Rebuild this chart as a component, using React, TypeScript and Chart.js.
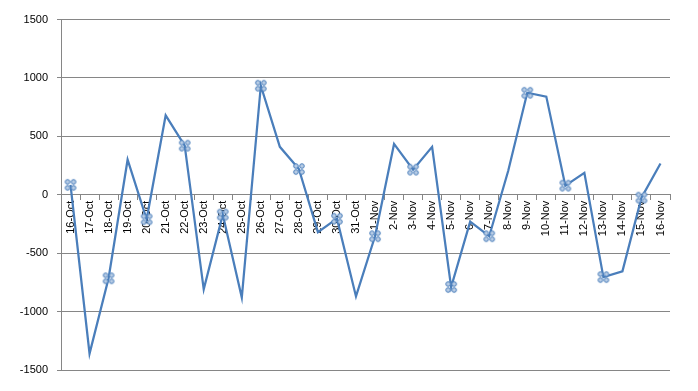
import React, { useEffect, useRef } from "react";
import { Chart, registerables } from "chart.js";

Chart.register(...registerables);

const categories: string[] = [
  "16-Oct", "17-Oct", "18-Oct", "19-Oct", "20-Oct", "21-Oct", "22-Oct", "23-Oct",
  "24-Oct", "25-Oct", "26-Oct", "27-Oct", "28-Oct", "29-Oct", "30-Oct", "31-Oct",
  "1-Nov", "2-Nov", "3-Nov", "4-Nov", "5-Nov", "6-Nov", "7-Nov", "8-Nov",
  "9-Nov", "10-Nov", "11-Nov", "12-Nov", "13-Nov", "14-Nov", "15-Nov", "16-Nov",
];

const values: number[] = [
  85, -1360, -715, 300, -210, 680, 420, -810,
  -170, -880, 933, 410, 220, -320, -205, -870,
  -355, 435, 215, 410, -790, -230, -355, 205,
  873, 840, 78, 188, -705, -655, -25, 268,
];

// every other point carries the four-circle marker
const marked: boolean[] = categories.map((_, i) => i % 2 === 0);

const yTicks: number[] = [-1500, -1000, -500, 0, 500, 1000, 1500];

const LINE = "#4A7EBB";
const AXIS = "#868686";
const FONT = "'Liberation Sans', Arial, sans-serif";

function makeMarker(): HTMLCanvasElement {
  const c = document.createElement("canvas");
  c.width = 14;
  c.height = 14;
  const g = c.getContext("2d")!;
  const offs = [
    [-3, -3],
    [3, -3],
    [-3, 3],
    [3, 3],
  ];
  g.lineWidth = 1;
  g.strokeStyle = LINE;
  g.fillStyle = "#B9CDE5";
  for (const [dx, dy] of offs) {
    g.beginPath();
    g.arc(7 + dx, 7 + dy, 2.3, 0, Math.PI * 2);
    g.fill();
    g.stroke();
  }
  return c;
}

export default function App() {
  const ref = useRef<HTMLCanvasElement | null>(null);

  useEffect(() => {
    if (!ref.current) return;
    const marker = makeMarker();
    const chart = new Chart(ref.current, {
      type: "line",
      data: {
        labels: categories,
        datasets: [
          {
            data: values,
            borderColor: LINE,
            borderWidth: 2.25,
            tension: 0,
            fill: false,
            pointStyle: marker as any,
            pointRadius: (ctx: any) => (marked[ctx.dataIndex] ? 5 : 0),
            pointHoverRadius: (ctx: any) => (marked[ctx.dataIndex] ? 5 : 0),
          },
        ],
      },
      options: {
        animation: false,
        responsive: true,
        maintainAspectRatio: false,
        layout: { padding: { top: 11.5, right: 20, bottom: 13, left: 0 } },
        plugins: {
          legend: { display: false },
          tooltip: { enabled: false },
        },
        scales: {
          x: {
            type: "category",
            position: { y: 0 } as any,
            offset: true,
            afterFit: (s: any) => {
              s.height = 0;
            },
            grid: {
              offset: true,
              drawOnChartArea: false,
              drawTicks: true,
              tickLength: 5,
              color: AXIS,
            },
            border: { display: true, color: AXIS, width: 1 },
            ticks: {
              autoSkip: false,
              minRotation: 90,
              maxRotation: 90,
              padding: 1,
              color: "#000",
              font: { family: FONT, size: 11 },
            },
          },
          y: {
            min: -1500,
            max: 1500,
            afterFit: (s: any) => {
              s.width = 53;
              s.paddingTop = 0;
              s.paddingBottom = 0;
            },
            afterBuildTicks: (s: any) => {
              s.ticks = yTicks.map((v) => ({ value: v }));
            },
            grid: {
              color: AXIS,
              lineWidth: 1,
              drawTicks: true,
              tickLength: 4,
            },
            border: { display: true, color: AXIS, width: 1 },
            ticks: {
              padding: 9,
              color: "#000",
              font: { family: FONT, size: 11 },
              callback: (v: any) => String(v),
            },
          },
        },
      },
    });
    return () => chart.destroy();
  }, []);

  return (
    <div style={{ width: "100%", height: 375, position: "relative" }}>
      <canvas ref={ref} />
    </div>
  );
}
